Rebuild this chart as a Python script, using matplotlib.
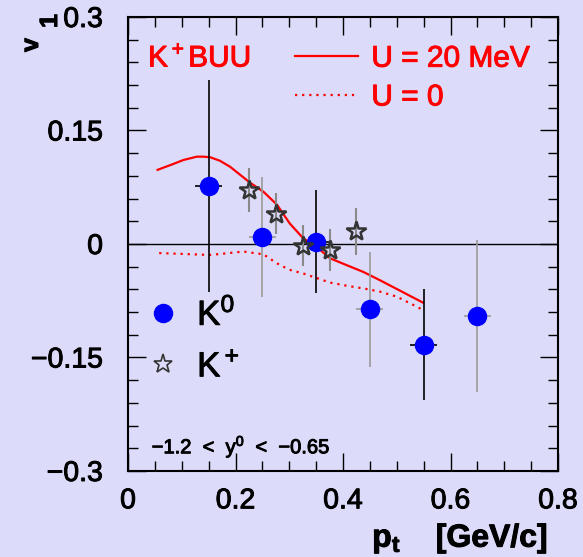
import matplotlib
matplotlib.use('Agg')
import matplotlib.pyplot as plt
from matplotlib.ticker import MultipleLocator
from matplotlib import patheffects
from matplotlib.text import Text

plt.rcParams['font.family'] = ['Liberation Sans', 'DejaVu Sans']
plt.rcParams['mathtext.fontset'] = 'custom'
plt.rcParams['mathtext.rm'] = 'Liberation Sans'
plt.rcParams['mathtext.it'] = 'Liberation Sans:italic'
plt.rcParams['mathtext.bf'] = 'Liberation Sans:bold'

# K0 data points
k0_pt = [0.15, 0.25, 0.35, 0.45, 0.55, 0.65]
k0_v1 = [0.077, 0.009, 0.003, -0.086, -0.133, -0.095]
k0_err = [0.140, 0.079, 0.068, 0.076, 0.073, 0.100]
k0_pt_err = [0.025, 0.025, 0.025, 0.025, 0.025, 0.025]

# K+ data points
kp_pt = [0.225, 0.275, 0.325, 0.375, 0.425]
kp_v1 = [0.071, 0.040, -0.002, -0.008, 0.017]
kp_err = [0.029, 0.027, 0.027, 0.028, 0.031]

# K+BUU, U = 20 MeV
u20_pt = [0.055, 0.084, 0.103, 0.128, 0.140, 0.153, 0.171, 0.19, 0.227, 0.252,
          0.277, 0.301, 0.326, 0.351, 0.376, 0.40, 0.438, 0.469, 0.549]
u20_v1 = [0.098, 0.1057, 0.111, 0.1154, 0.1154, 0.1146, 0.110, 0.102, 0.081, 0.069,
          0.052, 0.027, 0.0075, -0.004, -0.019, -0.026, -0.037, -0.048, -0.0776]

# K+BUU, U = 0
u0_pt = [0.058, 0.153, 0.215, 0.252, 0.277, 0.30, 0.326, 0.351, 0.376, 0.407,
         0.438, 0.469, 0.50, 0.531, 0.546]
u0_v1 = [-0.012, -0.0145, -0.010, -0.0137, -0.0255, -0.034, -0.039, -0.045, -0.051,
         -0.0552, -0.0587, -0.063, -0.0696, -0.0806, -0.0863]

bg = '#dcdcfa'
fig = plt.figure(figsize=(5.83, 5.57), dpi=100, facecolor=bg)
ax = fig.add_axes([0.2196, 0.1544, 0.7376, 0.8151], facecolor=bg)

ax.axhline(0, color='black', lw=1, zorder=1)

# theory curves
u20_line, = ax.plot(u20_pt, u20_v1, color='red', lw=1.6, label='U = 20 MeV', zorder=2)
u0_line, = ax.plot(u0_pt, u0_v1, color='red', lw=1.6, ls=(0, (1, 2.2)), label='U = 0',
                   zorder=2)

# error bars
eb_cols = ['black', '#999999', 'black', '#999999', 'black', '#999999']
eb0 = ax.errorbar(k0_pt, k0_v1, yerr=k0_err, xerr=k0_pt_err, fmt='none',
                  ecolor='black', elinewidth=1.2, zorder=3)
eb0[2][0].set_color(eb_cols)
eb0[2][1].set_color(eb_cols)
ebp = ax.errorbar(kp_pt, kp_v1, yerr=kp_err, fmt='none', ecolor='#8a8a8a',
                  elinewidth=1.5, zorder=3)

k0_line, = ax.plot(k0_pt, k0_v1, 'o', color='blue', ms=13, mec='blue', zorder=4,
                   label='K$^0$')
kp_line, = ax.plot(kp_pt, kp_v1, '*', ms=15, mfc='none', mec='#333333', mew=1.8,
                   zorder=4, label='K$^+$')

ax.set_xlim(0, 0.8)
ax.set_ylim(-0.3, 0.3)
ax.set_xticks([0, 0.2, 0.4, 0.6, 0.8])
ax.set_xticklabels(['0', '0.2', '0.4', '0.6', '0.8'])
ax.set_yticks([-0.3, -0.15, 0, 0.15, 0.3])
ax.set_yticklabels(['\u22120.3', '\u22120.15', '0', '0.15', '0.3'])
ax.xaxis.set_minor_locator(MultipleLocator(0.05))
ax.yaxis.set_minor_locator(MultipleLocator(0.03))
ax.tick_params(which='both', direction='in', top=True, right=True, width=1)
ax.tick_params(which='major', length=13, labelsize=20.5)
ax.tick_params(axis='x', which='major', pad=12.5)
ax.tick_params(axis='y', which='major', pad=18)
ax.tick_params(which='minor', length=7)
for s in ax.spines.values():
    s.set_linewidth(1.5)

ax.set_xlabel(r'$\mathbf{p}_\mathbf{t}$    [GeV/c]', fontsize=23, fontweight='bold',
              loc='right')
ax.xaxis.set_label_coords(0.977, -0.112)

# v_1 label: the subscript is nearly full size in the original
ax.set_ylabel('v', fontsize=18, fontweight='bold')
ax.yaxis.label.set(va='baseline', ha='left', rotation_mode='anchor')
ax.yaxis.set_label_coords(-0.2093, 0.9229)
ax.text(-0.1651, 0.9758, '1', fontsize=18, fontweight='bold', rotation=90,
        va='baseline', ha='left', rotation_mode='anchor', transform=ax.transAxes)

ax.text(0.0465, 0.8905, 'K$^+$BUU', color='red', fontsize=21.5, transform=ax.transAxes)
ax.text(0.055, 0.039, '\u22121.2  <  y$^0$  <  \u22120.65', fontsize=14.5,
        transform=ax.transAxes)

leg1 = ax.legend(handles=[u20_line, u0_line], loc='upper left',
                 bbox_to_anchor=(0.388, 0.939), frameon=False, fontsize=21.5,
                 labelcolor='red', handlelength=2.1, handletextpad=0.46,
                 labelspacing=0.36, borderpad=0, borderaxespad=0)
ax.add_artist(leg1)
leg2 = ax.legend(handles=[k0_line, kp_line], loc='upper left',
                 bbox_to_anchor=(0.042, 0.3826), frameon=False, fontsize=25,
                 handlelength=1.0, handletextpad=0.47, labelspacing=0.54,
                 borderpad=0, borderaxespad=0)
leg2.legend_handles[1].set_markersize(14)
leg2.legend_handles[1].set_markeredgewidth(1.2)

# ROOT renders Helvetica a little heavier than Liberation Sans regular
for t in fig.findobj(Text):
    t.set_path_effects([patheffects.withStroke(linewidth=0.7,
                                               foreground=t.get_color())])

fig.savefig('out.png', dpi=100, facecolor=bg)
